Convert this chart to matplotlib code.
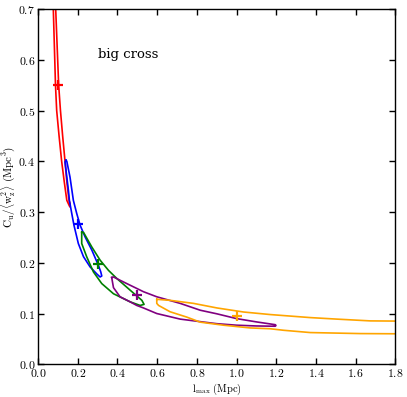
import matplotlib
matplotlib.use("Agg")
import matplotlib.pyplot as plt
from matplotlib.ticker import FuncFormatter

plt.rcParams['mathtext.fontset'] = 'cm'
plt.rcParams['font.family'] = ['DejaVu Serif']

# contour loops (l_max in Mpc, C_u/<w_z^2> in Mpc^3)
red_x = [0.072, 0.077, 0.088, 0.094, 0.106, 0.119, 0.132, 0.145, 0.158, 0.161,
         0.162, 0.156, 0.145, 0.136, 0.124, 0.113, 0.104, 0.089, 0.084, 0.072]
red_y = [0.76, 0.70, 0.55, 0.50, 0.45, 0.40, 0.36, 0.323, 0.312, 0.310,
         0.316, 0.323, 0.36, 0.40, 0.45, 0.50, 0.55, 0.70, 0.76, 0.76]

blue_x = [0.141, 0.136, 0.145, 0.153, 0.158, 0.170, 0.181, 0.203, 0.229, 0.262,
          0.296, 0.3125, 0.321, 0.316, 0.304, 0.271, 0.237, 0.212, 0.195, 0.178,
          0.161, 0.145, 0.141]
blue_y = [0.402, 0.399, 0.369, 0.343, 0.323, 0.297, 0.274, 0.238, 0.212, 0.192,
          0.178, 0.172, 0.174, 0.182, 0.195, 0.225, 0.251, 0.274, 0.297, 0.323,
          0.369, 0.400, 0.402]

green_x = [0.220, 0.220, 0.245, 0.279, 0.321, 0.380, 0.464, 0.514, 0.534, 0.523,
           0.464, 0.397, 0.355, 0.313, 0.271, 0.229, 0.220]
green_y = [0.260, 0.238, 0.212, 0.182, 0.159, 0.139, 0.123, 0.116, 0.118, 0.126,
           0.146, 0.169, 0.185, 0.205, 0.231, 0.260, 0.260]

purple_x = [0.371, 0.380, 0.413, 0.464, 0.497, 0.531, 0.598, 0.716, 0.817, 0.900,
            1.000, 1.100, 1.195, 1.198, 1.195, 1.100, 1.000, 0.900, 0.817, 0.716,
            0.598, 0.531, 0.447, 0.380, 0.371]
purple_y = [0.171, 0.151, 0.133, 0.123, 0.116, 0.111, 0.100, 0.089, 0.084, 0.080,
            0.077, 0.0755, 0.075, 0.0765, 0.078, 0.0835, 0.090, 0.0995, 0.1065, 0.120,
            0.133, 0.143, 0.159, 0.172, 0.171]

orange_x = [0.598, 0.665, 0.783, 0.901, 1.035, 1.169, 1.270, 1.371, 1.505, 1.673,
            1.850, 1.850, 1.623, 1.371, 1.237, 1.169, 1.069, 0.934, 0.817, 0.749,
            0.665, 0.607, 0.598, 0.598]
orange_y = [0.128, 0.126, 0.120, 0.111, 0.103, 0.098, 0.095, 0.092, 0.089, 0.0855,
            0.085, 0.060, 0.0605, 0.0625, 0.067, 0.070, 0.0716, 0.077, 0.083, 0.093,
            0.1035, 0.116, 0.120, 0.128]

# best-fit crosses
cross_x = [0.1, 0.2, 0.3, 0.5, 1.0]
cross_y = [0.55, 0.276, 0.197, 0.137, 0.096]

colors = ['#ff0000', '#0000ff', '#008000', '#800080', '#ffa500']
loops = [(red_x, red_y), (blue_x, blue_y), (green_x, green_y),
         (purple_x, purple_y), (orange_x, orange_y)]

xticks = [0.0, 0.2, 0.4, 0.6, 0.8, 1.0, 1.2, 1.4, 1.6, 1.8]
yticks = [0.0, 0.1, 0.2, 0.3, 0.4, 0.5, 0.6, 0.7]

fig = plt.figure(figsize=(4.07, 3.97), dpi=100)
ax = fig.add_axes([0.0934, 0.0824, 0.9717 - 0.0934, 0.9773 - 0.0824])

for (lx, ly), c in zip(loops, colors):
    ax.plot(lx, ly, color=c, lw=1.2)
for cx, cy, c in zip(cross_x, cross_y, colors):
    ax.plot([cx], [cy], marker='+', ms=7, mew=1.6, color=c, ls='none')

ax.text(0.30, 0.61, 'big cross', fontsize=9.5, va='center', ha='left',
        family=['DejaVu Serif'])

ax.set_xlim(0, 1.8)
ax.set_ylim(0, 0.7)
ax.set_xticks(xticks)
ax.set_yticks(yticks)
fmt = FuncFormatter(lambda v, p: r'$%.1f$' % v)
ax.xaxis.set_major_formatter(fmt)
ax.yaxis.set_major_formatter(fmt)
ax.tick_params(direction='in', top=True, right=True, length=4, width=1,
               labelsize=8.5, pad=2)
for s in ax.spines.values():
    s.set_linewidth(1)

ax.set_xlabel(r'$\mathrm{l_{max}\ (Mpc)}$', fontsize=7.5, labelpad=1)
ax.set_ylabel(r'$\mathrm{C_u/\langle w_z^2\rangle\ (Mpc^3)}$', fontsize=8, labelpad=1)

fig.savefig('out.png', dpi=100)
